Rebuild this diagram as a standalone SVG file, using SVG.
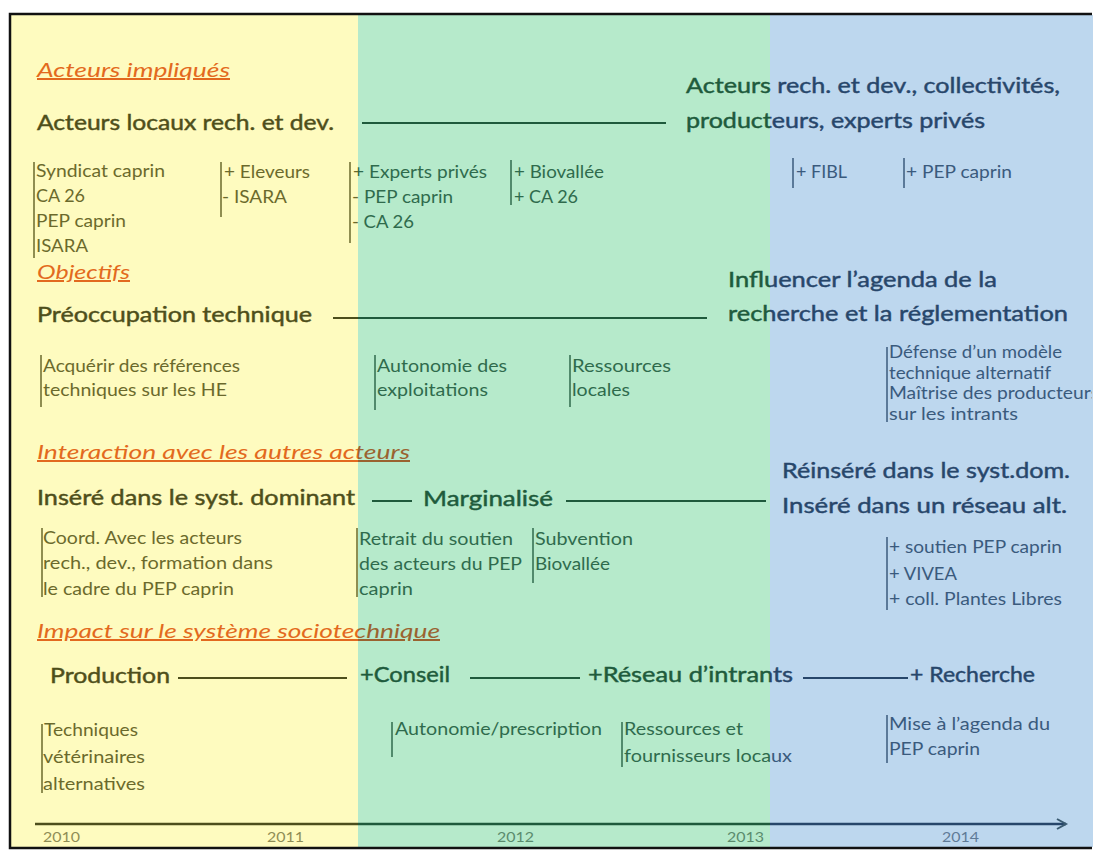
<svg xmlns="http://www.w3.org/2000/svg" width="1096" height="854" viewBox="0 0 1096 854">
<defs>
<linearGradient id="ink" gradientUnits="userSpaceOnUse" x1="0" y1="0" x2="1096" y2="0">
<stop offset="0" stop-color="#4d4e1c"/><stop offset="0.3266" stop-color="#4d4e1c"/><stop offset="0.3266" stop-color="#1f5a3c"/><stop offset="0.7026" stop-color="#1f5a3c"/><stop offset="0.7026" stop-color="#27466a"/><stop offset="1" stop-color="#27466a"/>
</linearGradient>
<linearGradient id="ink2" gradientUnits="userSpaceOnUse" x1="0" y1="0" x2="1096" y2="0">
<stop offset="0" stop-color="#6a692c"/><stop offset="0.3266" stop-color="#6a692c"/><stop offset="0.3266" stop-color="#2f6a4c"/><stop offset="0.7026" stop-color="#2f6a4c"/><stop offset="0.7026" stop-color="#3a5a7c"/><stop offset="1" stop-color="#3a5a7c"/>
</linearGradient>
<linearGradient id="ink3" gradientUnits="userSpaceOnUse" x1="0" y1="0" x2="1096" y2="0">
<stop offset="0" stop-color="#8e8c55"/><stop offset="0.3266" stop-color="#8e8c55"/><stop offset="0.3266" stop-color="#5a8a6c"/><stop offset="0.7026" stop-color="#5a8a6c"/><stop offset="0.7026" stop-color="#5f7a96"/><stop offset="1" stop-color="#5f7a96"/>
</linearGradient>
<linearGradient id="orange" gradientUnits="userSpaceOnUse" x1="0" y1="0" x2="1096" y2="0">
<stop offset="0" stop-color="#E2691F"/><stop offset="0.3266" stop-color="#E2691F"/><stop offset="0.3266" stop-color="#9a6230"/><stop offset="1" stop-color="#9a6230"/>
</linearGradient>
<clipPath id="frame"><rect x="11" y="15" width="1081" height="832"/></clipPath>
<marker id="arr" markerWidth="14" markerHeight="14" refX="11" refY="7" orient="auto" markerUnits="userSpaceOnUse">
<path d="M2,2 L11,7 L2,12" fill="none" stroke="#3a5a70" stroke-width="2"/>
</marker>
<style>
.h{font-family:Lato,"Liberation Sans",sans-serif;font-style:italic;font-size:20px;fill:url(#orange);text-decoration:underline}
.b{font-family:Lato,"Liberation Sans",sans-serif;font-size:22px;fill:url(#ink);stroke:url(#ink);stroke-width:0.45}
.s{font-family:Lato,"Liberation Sans",sans-serif;font-size:17px;fill:url(#ink2)}
.y{font-family:Lato,"Liberation Sans",sans-serif;font-size:14px;fill:url(#ink3)}
.c{stroke:url(#ink);stroke-width:1.8;fill:none}
.k{stroke:url(#ink2);stroke-width:1.5;fill:none}
</style>
</defs>

<g id="background">
<rect x="0" y="0" width="1096" height="854" fill="#ffffff"/>
<rect x="11" y="15" width="348" height="832" fill="#FEFBBF"/>
<rect x="358" y="15" width="412" height="832" fill="#B6EACB"/>
<rect x="770" y="15" width="323" height="832" fill="#BDD7EE"/>
<polyline points="1092,14 10,14 10,848 1092,848" fill="none" stroke="#111111" stroke-width="2.5"/>
</g>

<g id="headings">
<text class="h" x="37" y="77" textLength="193" lengthAdjust="spacingAndGlyphs">Acteurs impliqués</text>
<text class="h" x="37" y="279" textLength="93" lengthAdjust="spacingAndGlyphs">Objectifs</text>
<text class="h" x="37" y="459" textLength="373" lengthAdjust="spacingAndGlyphs">Interaction avec les autres acteurs</text>
<text class="h" x="37" y="638" textLength="403" lengthAdjust="spacingAndGlyphs">Impact sur le système sociotechnique</text>
</g>

<g id="connectors">
<line class="c" x1="362" y1="123" x2="666" y2="123"/>
<line class="c" x1="333" y1="318" x2="707" y2="318"/>
<line class="c" x1="372" y1="501" x2="412" y2="501"/>
<line class="c" x1="566" y1="501" x2="766" y2="501"/>
<line class="c" x1="178" y1="678" x2="347" y2="678"/>
<line class="c" x1="470" y1="678" x2="580" y2="678"/>
<line class="c" x1="803" y1="678" x2="908" y2="678"/>
</g>

<g id="n-acteurs-locaux"><text class="b" x="37" y="130" textLength="297" lengthAdjust="spacingAndGlyphs">Acteurs locaux rech. et dev.</text></g>
<g id="n-acteurs-larges">
<text class="b" x="686" y="93" textLength="374" lengthAdjust="spacingAndGlyphs">Acteurs rech. et dev., collectivités,</text>
<text class="b" x="686" y="128" textLength="299" lengthAdjust="spacingAndGlyphs">producteurs, experts privés</text>
</g>
<g id="n-preoccupation"><text class="b" x="37" y="322" textLength="275" lengthAdjust="spacingAndGlyphs">Préoccupation technique</text></g>
<g id="n-influencer">
<text class="b" x="728" y="287" textLength="269" lengthAdjust="spacingAndGlyphs">Influencer l’agenda de la</text>
<text class="b" x="728" y="321" textLength="340" lengthAdjust="spacingAndGlyphs">recherche et la réglementation</text>
</g>
<g id="n-insere"><text class="b" x="37" y="505" textLength="318" lengthAdjust="spacingAndGlyphs">Inséré dans le syst. dominant</text></g>
<g id="n-marginalise"><text class="b" x="423" y="506" textLength="130" lengthAdjust="spacingAndGlyphs">Marginalisé</text></g>
<g id="n-reinsere">
<text class="b" x="782" y="478" textLength="288" lengthAdjust="spacingAndGlyphs">Réinséré dans le syst.dom.</text>
<text class="b" x="782" y="513" textLength="285" lengthAdjust="spacingAndGlyphs">Inséré dans un réseau alt.</text>
</g>
<g id="n-production"><text class="b" x="50" y="683" textLength="120" lengthAdjust="spacingAndGlyphs">Production</text></g>
<g id="n-conseil"><text class="b" x="360" y="682" textLength="90" lengthAdjust="spacingAndGlyphs">+Conseil</text></g>
<g id="n-reseau"><text class="b" x="588" y="682" textLength="205" lengthAdjust="spacingAndGlyphs">+Réseau d’intrants</text></g>
<g id="n-recherche"><text class="b" x="910" y="682" textLength="125" lengthAdjust="spacingAndGlyphs">+ Recherche</text></g>

<g id="d-acteurs-2010">
<line class="k" x1="34" y1="162" x2="34" y2="258"/>
<text class="s" x="36" y="177" textLength="129" lengthAdjust="spacingAndGlyphs">Syndicat caprin</text>
<text class="s" x="36" y="202" textLength="49" lengthAdjust="spacingAndGlyphs">CA 26</text>
<text class="s" x="36" y="227" textLength="90" lengthAdjust="spacingAndGlyphs">PEP caprin</text>
<text class="s" x="36" y="252" textLength="52" lengthAdjust="spacingAndGlyphs">ISARA</text>
</g>
<g id="d-acteurs-2011">
<line class="k" x1="221" y1="162" x2="221" y2="217"/>
<text class="s" x="224" y="178" textLength="86" lengthAdjust="spacingAndGlyphs">+ Eleveurs</text>
<text class="s" x="222" y="203" textLength="65" lengthAdjust="spacingAndGlyphs">- ISARA</text>
</g>
<g id="d-acteurs-2011b">
<line class="k" x1="350" y1="162" x2="350" y2="243"/>
<text class="s" x="353" y="178" textLength="134" lengthAdjust="spacingAndGlyphs">+ Experts privés</text>
<text class="s" x="352" y="203" textLength="101" lengthAdjust="spacingAndGlyphs">- PEP caprin</text>
<text class="s" x="352" y="228" textLength="62" lengthAdjust="spacingAndGlyphs">- CA 26</text>
</g>
<g id="d-acteurs-2012">
<line class="k" x1="511" y1="160" x2="511" y2="205"/>
<text class="s" x="514" y="178" textLength="90" lengthAdjust="spacingAndGlyphs">+ Biovallée</text>
<text class="s" x="514" y="203" textLength="64" lengthAdjust="spacingAndGlyphs">+ CA 26</text>
</g>
<g id="d-acteurs-fibl">
<line class="k" x1="793" y1="158" x2="793" y2="188"/>
<text class="s" x="796" y="178" textLength="51" lengthAdjust="spacingAndGlyphs">+ FIBL</text>
</g>
<g id="d-acteurs-pep">
<line class="k" x1="904" y1="158" x2="904" y2="188"/>
<text class="s" x="906" y="178" textLength="106" lengthAdjust="spacingAndGlyphs">+ PEP caprin</text>
</g>

<g id="d-obj-references">
<line class="k" x1="41" y1="355" x2="41" y2="407"/>
<text class="s" x="43" y="372" textLength="197" lengthAdjust="spacingAndGlyphs">Acquérir des références</text>
<text class="s" x="43" y="396" textLength="184" lengthAdjust="spacingAndGlyphs">techniques sur les HE</text>
</g>
<g id="d-obj-autonomie">
<line class="k" x1="375" y1="355" x2="375" y2="410"/>
<text class="s" x="377" y="372" textLength="130" lengthAdjust="spacingAndGlyphs">Autonomie des</text>
<text class="s" x="377" y="396" textLength="111" lengthAdjust="spacingAndGlyphs">exploitations</text>
</g>
<g id="d-obj-ressources">
<line class="k" x1="570" y1="355" x2="570" y2="407"/>
<text class="s" x="572" y="372" textLength="99" lengthAdjust="spacingAndGlyphs">Ressources</text>
<text class="s" x="572" y="396" textLength="58" lengthAdjust="spacingAndGlyphs">locales</text>
</g>
<g id="d-obj-defense" clip-path="url(#frame)">
<line class="k" x1="887" y1="347" x2="887" y2="422"/>
<text class="s" x="889" y="358" textLength="173" lengthAdjust="spacingAndGlyphs">Défense d’un modèle</text>
<text class="s" x="889" y="379" textLength="162" lengthAdjust="spacingAndGlyphs">technique alternatif</text>
<text class="s" x="889" y="399" textLength="210" lengthAdjust="spacingAndGlyphs">Maîtrise des producteurs</text>
<text class="s" x="889" y="420" textLength="129" lengthAdjust="spacingAndGlyphs">sur les intrants</text>
</g>

<g id="d-int-coord">
<line class="k" x1="42" y1="528" x2="42" y2="597"/>
<text class="s" x="43" y="544" textLength="199" lengthAdjust="spacingAndGlyphs">Coord. Avec les acteurs</text>
<text class="s" x="43" y="569" textLength="230" lengthAdjust="spacingAndGlyphs">rech., dev., formation dans</text>
<text class="s" x="43" y="595" textLength="191" lengthAdjust="spacingAndGlyphs">le cadre du PEP caprin</text>
</g>
<g id="d-int-retrait">
<line class="k" x1="357" y1="528" x2="357" y2="597"/>
<text class="s" x="359" y="545" textLength="154" lengthAdjust="spacingAndGlyphs">Retrait du soutien</text>
<text class="s" x="359" y="570" textLength="163" lengthAdjust="spacingAndGlyphs">des acteurs du PEP</text>
<text class="s" x="359" y="595" textLength="54" lengthAdjust="spacingAndGlyphs">caprin</text>
</g>
<g id="d-int-subvention">
<line class="k" x1="533" y1="528" x2="533" y2="583"/>
<text class="s" x="535" y="545" textLength="98" lengthAdjust="spacingAndGlyphs">Subvention</text>
<text class="s" x="535" y="570" textLength="75" lengthAdjust="spacingAndGlyphs">Biovallée</text>
</g>
<g id="d-int-soutien">
<line class="k" x1="887" y1="537" x2="887" y2="610"/>
<text class="s" x="889" y="553" textLength="173" lengthAdjust="spacingAndGlyphs">+ soutien PEP caprin</text>
<text class="s" x="889" y="580" textLength="68" lengthAdjust="spacingAndGlyphs">+ VIVEA</text>
<text class="s" x="889" y="605" textLength="173" lengthAdjust="spacingAndGlyphs">+ coll. Plantes Libres</text>
</g>

<g id="d-imp-techniques">
<line class="k" x1="42" y1="724" x2="42" y2="793"/>
<text class="s" x="44" y="736" textLength="94" lengthAdjust="spacingAndGlyphs">Techniques</text>
<text class="s" x="43" y="763" textLength="102" lengthAdjust="spacingAndGlyphs">vétérinaires</text>
<text class="s" x="43" y="790" textLength="102" lengthAdjust="spacingAndGlyphs">alternatives</text>
</g>
<g id="d-imp-autonomie">
<line class="k" x1="392" y1="722" x2="392" y2="757"/>
<text class="s" x="395" y="735" textLength="207" lengthAdjust="spacingAndGlyphs">Autonomie/prescription</text>
</g>
<g id="d-imp-ressources">
<line class="k" x1="622" y1="722" x2="622" y2="767"/>
<text class="s" x="624" y="735" textLength="119" lengthAdjust="spacingAndGlyphs">Ressources et</text>
<text class="s" x="624" y="762" textLength="168" lengthAdjust="spacingAndGlyphs">fournisseurs locaux</text>
</g>
<g id="d-imp-agenda">
<line class="k" x1="887" y1="715" x2="887" y2="763"/>
<text class="s" x="889" y="730" textLength="161" lengthAdjust="spacingAndGlyphs">Mise à l’agenda du</text>
<text class="s" x="889" y="755" textLength="91" lengthAdjust="spacingAndGlyphs">PEP caprin</text>
</g>

<g id="axis">
<line x1="35" y1="824" x2="1066" y2="824" stroke="url(#ink)" stroke-width="2.5" marker-end="url(#arr)"/>
<text class="y" x="43" y="842" textLength="37" lengthAdjust="spacingAndGlyphs">2010</text>
<text class="y" x="267" y="842" textLength="37" lengthAdjust="spacingAndGlyphs">2011</text>
<text class="y" x="497" y="842" textLength="37" lengthAdjust="spacingAndGlyphs">2012</text>
<text class="y" x="727" y="842" textLength="37" lengthAdjust="spacingAndGlyphs">2013</text>
<text class="y" x="942" y="842" textLength="37" lengthAdjust="spacingAndGlyphs">2014</text>
</g>
</svg>
